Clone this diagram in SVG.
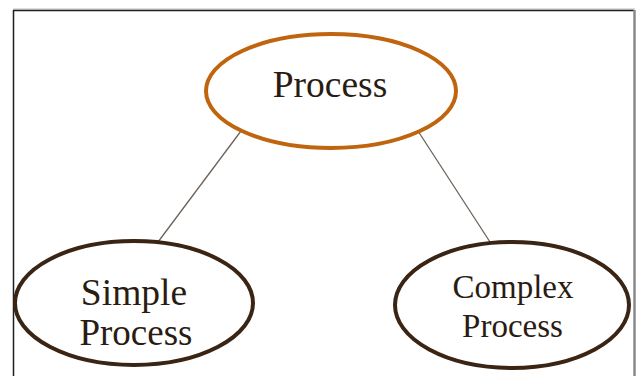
<svg xmlns="http://www.w3.org/2000/svg" width="638" height="376" viewBox="0 0 638 376">
  <style>
    .label { font-family: "Liberation Serif", "Times New Roman", serif; fill: #2a1c12; text-anchor: middle; }
    .root { fill: #ffffff; stroke: #c0650f; stroke-width: 4; }
    .leaf { fill: #ffffff; stroke: #3a2414; stroke-width: 4; }
    .link { stroke: #6e6258; stroke-width: 1.3; fill: none; }
  </style>
  <rect x="0" y="0" width="638" height="376" fill="#ffffff"/>
  <!-- frame -->
  <g id="frame">
    <line x1="13" y1="9" x2="635" y2="9" stroke="#bdbdbd" stroke-width="1"/>
    <line x1="13" y1="10.5" x2="634" y2="10.5" stroke="#1e1e1e" stroke-width="1.5"/>
    <line x1="13.5" y1="10" x2="13.5" y2="376" stroke="#1e1e1e" stroke-width="1.5"/>
    <line x1="634.5" y1="10" x2="634.5" y2="376" stroke="#8a8a8a" stroke-width="2.5"/>
  </g>
  <!-- connectors -->
  <g id="connectors">
    <line class="link" x1="241" y1="131" x2="158" y2="242"/>
    <line class="link" x1="418" y1="131" x2="490" y2="242"/>
  </g>
  <g id="node-process">
    <ellipse class="root" cx="331" cy="91" rx="125" ry="57"/>
    <text class="label" x="330" y="97" font-size="37.5">Process</text>
  </g>
  <g id="node-simple">
    <ellipse class="leaf" cx="134" cy="303" rx="119" ry="62"/>
    <text class="label" x="134" y="305" font-size="37.5">Simple</text>
    <text class="label" x="136" y="345" font-size="37">Process</text>
  </g>
  <g id="node-complex">
    <ellipse class="leaf" cx="512" cy="305" rx="117" ry="63"/>
    <text class="label" x="513" y="298" font-size="33">Complex</text>
    <text class="label" x="512.5" y="337" font-size="33">Process</text>
  </g>
</svg>
